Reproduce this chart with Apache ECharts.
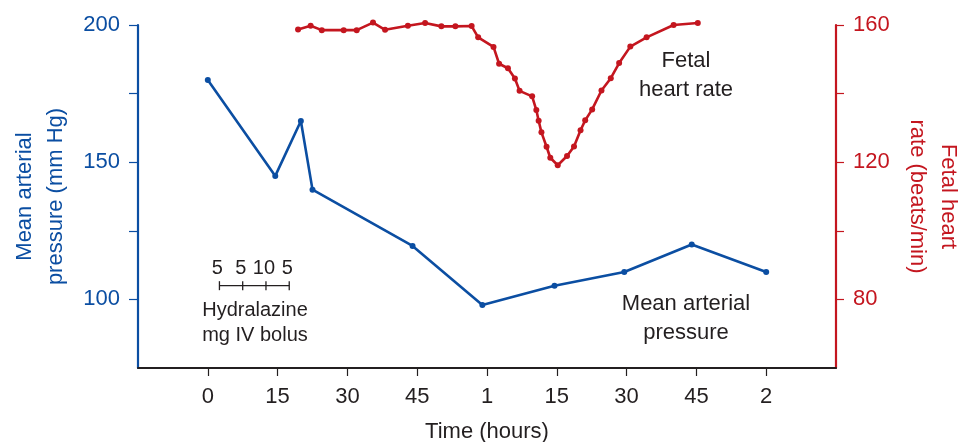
<!DOCTYPE html>
<html>
<head>
<meta charset="utf-8">
<script src="https://cdn.jsdelivr.net/npm/echarts@6/dist/echarts.min.js"></script>
<style>
html,body{margin:0;padding:0;background:#fff;}
#c{width:968px;height:442px;}
</style>
</head>
<body>
<div id="c"></div>
<script>
// Time in minutes from first dose; tick labels in hours/minutes
const xTickValues = [0, 15, 30, 45, 60, 75, 90, 105, 120];
const xTickLabels = ['0', '15', '30', '45', '1', '15', '30', '45', '2'];
const leftTickValues = [100, 125, 150, 175, 200];
const leftLabelValues = [100, 150, 200];
const rightTickValues = [80, 100, 120, 140, 160];
const rightLabelValues = [80, 120, 160];

// Mean arterial pressure (mm Hg): [minutes, value]
const mapData = [
  [0, 180], [14.5, 145], [20, 165], [22.5, 140], [44, 119.5],
  [59, 98], [74.5, 105], [89.5, 110], [104, 120], [120, 110]
];

// Fetal heart rate (beats/min): [minutes, value]
const fhrData = [
  [19.4, 158.7], [22.1, 159.8], [24.5, 158.5], [29.2, 158.5], [32, 158.5],
  [35.5, 160.7], [38.1, 158.6], [43, 159.8], [46.7, 160.6], [50.2, 159.6],
  [53.2, 159.6], [56.7, 159.7], [58.1, 156.4], [61.4, 153.6], [62.6, 148.7],
  [64.5, 147.4], [66, 144.4], [67, 140.8], [69.7, 139.2], [70.6, 135.2],
  [71.1, 132.1], [71.7, 128.7], [72.8, 124.5], [73.6, 121.3], [75.2, 119.1],
  [77.2, 121.8], [78.7, 124.6], [80.1, 129.3], [81.1, 132.2], [82.6, 135.4],
  [84.6, 140.9], [86.6, 144.5], [88.4, 148.9], [90.8, 153.7], [94.3, 156.4],
  [100.1, 160], [105.3, 160.6]
];

// Hydralazine doses (mg IV bolus)
const doseTimes = [2.5, 7.5, 12.5, 17.5];
const doseMg = [5, 5, 10, 5];
const doseMarkerLevel = 105; // position of the dose scale on the pressure axis

const BLUE = '#0b4ea2';
const RED = '#c4161f';
const DARK = '#231f20';
const FONT = '"Liberation Sans", Arial, Helvetica, sans-serif';

const chart = echarts.init(document.getElementById('c'), null, {renderer: 'canvas'});

const option = {
  animation: false,
  backgroundColor: '#fff',
  textStyle: {fontFamily: FONT},
  grid: {left: 138, right: 132, top: 25, bottom: 74, containLabel: false, outerBoundsMode: 'none'},
  xAxis: {
    type: 'value', min: -15, max: 135, interval: 15,
    name: 'Time (hours)', nameLocation: 'middle', nameGap: 53,
    nameTextStyle: {color: DARK, fontSize: 22, fontFamily: FONT},
    axisLine: {show: true, onZero: false, lineStyle: {color: DARK, width: 2}},
    axisTick: {show: true, inside: false, length: 8, customValues: xTickValues, lineStyle: {color: DARK, width: 1.2}},
    axisLabel: {
      customValues: xTickValues, margin: 18, color: DARK, fontSize: 22, fontFamily: FONT,
      formatter: v => xTickLabels[xTickValues.indexOf(v)]
    },
    splitLine: {show: false}
  },
  yAxis: [
    {
      type: 'value', min: 75, max: 200, interval: 25, position: 'left',
      name: 'Mean arterial\npressure (mm Hg)', nameLocation: 'middle', nameRotate: 90, nameGap: 67,
      nameTextStyle: {color: BLUE, fontSize: 22, lineHeight: 31, fontFamily: FONT, align: 'center'},
      axisLine: {show: true, onZero: false, lineStyle: {color: BLUE, width: 2.2}},
      axisTick: {show: true, length: 9, customValues: leftTickValues, lineStyle: {color: BLUE, width: 1.2}},
      axisLabel: {customValues: leftLabelValues, margin: 18, color: BLUE, fontSize: 22, fontFamily: FONT},
      splitLine: {show: false}
    },
    {
      type: 'value', min: 60, max: 160, interval: 20, position: 'right',
      name: 'Fetal heart\nrate (beats/min)', nameLocation: 'middle', nameRotate: -90, nameGap: 66,
      nameTextStyle: {color: RED, fontSize: 22, lineHeight: 31, fontFamily: FONT, align: 'center'},
      axisLine: {show: true, onZero: false, lineStyle: {color: RED, width: 2.2}},
      axisTick: {show: true, length: 8, customValues: rightTickValues, lineStyle: {color: RED, width: 1.2}},
      axisLabel: {customValues: rightLabelValues, margin: 17, color: RED, fontSize: 22, fontFamily: FONT},
      splitLine: {show: false}
    }
  ],
  series: [
    {
      name: 'Mean arterial pressure', type: 'line', yAxisIndex: 0, data: mapData, clip: false,
      symbol: 'circle', symbolSize: 6, showSymbol: true,
      lineStyle: {color: BLUE, width: 2.6}, itemStyle: {color: BLUE}, z: 3
    },
    {
      name: 'Fetal heart rate', type: 'line', yAxisIndex: 1, data: fhrData, clip: false,
      symbol: 'circle', symbolSize: 6, showSymbol: true,
      lineStyle: {color: RED, width: 2.6}, itemStyle: {color: RED}, z: 3
    },
    {
      name: 'Hydralazine', type: 'line', yAxisIndex: 0, clip: false,
      data: doseTimes.map((t, i) => ({value: [t, doseMarkerLevel], label: {formatter: String(doseMg[i])}})),
      symbol: 'rect', symbolSize: [1.3, 9], showSymbol: true,
      lineStyle: {color: DARK, width: 1.2}, itemStyle: {color: DARK},
      label: {show: true, position: 'top', distance: 3, offset: [-2, 0], color: DARK, fontSize: 20, fontFamily: FONT},
      z: 2, silent: true
    }
  ],
  graphic: [
    {
      type: 'text', x: 686, y: 75, z: 10,
      style: {text: 'Fetal\nheart rate', fill: DARK, font: '22px ' + FONT, lineHeight: 29, align: 'center', verticalAlign: 'middle'}
    },
    {
      type: 'text', x: 686, y: 318, z: 10,
      style: {text: 'Mean arterial\npressure', fill: DARK, font: '22px ' + FONT, lineHeight: 29, align: 'center', verticalAlign: 'middle'}
    },
    {
      type: 'text', x: 255, y: 323, z: 10,
      style: {text: 'Hydralazine\nmg IV bolus', fill: DARK, font: '20px ' + FONT, lineHeight: 25, align: 'center', verticalAlign: 'middle'}
    }
  ]
};
chart.setOption(option);
</script>
</body>
</html>
